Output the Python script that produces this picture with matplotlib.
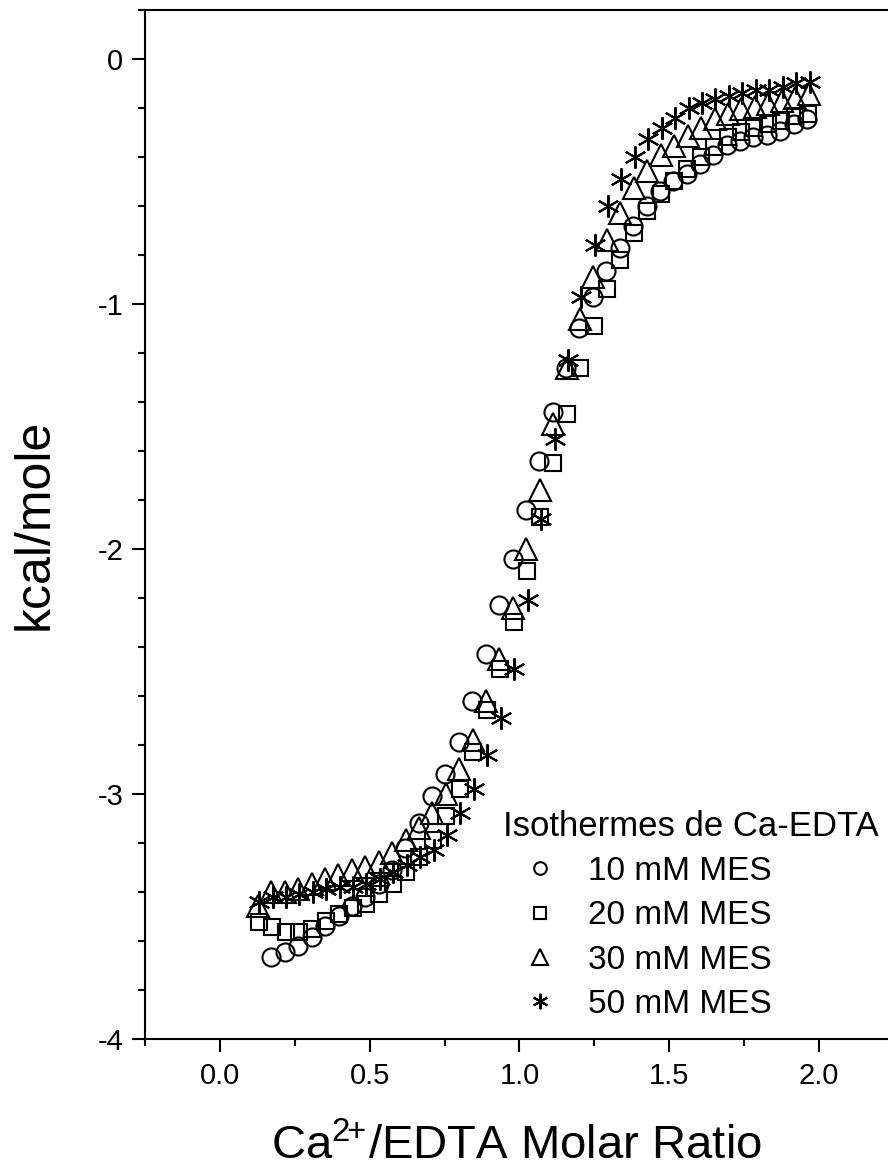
import matplotlib
matplotlib.use("Agg")
import matplotlib.pyplot as plt
from matplotlib.ticker import MultipleLocator, FormatStrFormatter

plt.rcParams['font.family'] = ['Liberation Sans', 'DejaVu Sans']
plt.rcParams['axes.unicode_minus'] = False
plt.rcParams['mathtext.fontset'] = 'custom'
plt.rcParams['mathtext.rm'] = 'Liberation Sans'
plt.rcParams['mathtext.it'] = 'Liberation Sans'
plt.rcParams['mathtext.bf'] = 'Liberation Sans'

# ---- data ----
x_10 = [0.172, 0.217, 0.261, 0.306, 0.351, 0.396, 0.440, 0.485, 0.530, 0.574,
        0.619, 0.664, 0.708, 0.753, 0.798, 0.843, 0.887, 0.932, 0.977, 1.021,
        1.066, 1.111, 1.155, 1.200, 1.245, 1.289, 1.334, 1.379, 1.424, 1.468,
        1.513, 1.558, 1.602, 1.647, 1.692, 1.736, 1.781, 1.826, 1.870, 1.915,
        1.960]
y_10 = [-3.668, -3.648, -3.62, -3.586, -3.54, -3.50, -3.46, -3.42, -3.37, -3.31,
        -3.22, -3.12, -3.01, -2.92, -2.79, -2.62, -2.43, -2.23, -2.04, -1.84,
        -1.64, -1.44, -1.26, -1.10, -0.97, -0.865, -0.77, -0.68, -0.60, -0.54,
        -0.50, -0.47, -0.43, -0.39, -0.35, -0.336, -0.32, -0.31, -0.294, -0.265,
        -0.246]

x_20 = [0.130, 0.175, 0.219, 0.264, 0.309, 0.354, 0.398, 0.443, 0.488, 0.532,
        0.577, 0.622, 0.666, 0.711, 0.756, 0.801, 0.845, 0.890, 0.935, 0.980,
        1.024, 1.069, 1.113, 1.158, 1.203, 1.248, 1.292, 1.337, 1.382, 1.426,
        1.471, 1.516, 1.560, 1.605, 1.650, 1.695, 1.739, 1.784, 1.829, 1.873,
        1.918, 1.963]
y_20 = [-3.525, -3.545, -3.563, -3.563, -3.552, -3.52, -3.49, -3.467, -3.45, -3.41,
        -3.37, -3.32, -3.26, -3.19, -3.09, -2.98, -2.83, -2.66, -2.49, -2.30,
        -2.09, -1.87, -1.65, -1.45, -1.26, -1.09, -0.94, -0.82, -0.71, -0.62,
        -0.55, -0.50, -0.45, -0.40, -0.36, -0.32, -0.30, -0.28, -0.264, -0.253,
        -0.233, -0.226]

x_30 = [0.126, 0.171, 0.216, 0.261, 0.306, 0.350, 0.395, 0.440, 0.485, 0.530,
        0.575, 0.620, 0.664, 0.709, 0.754, 0.799, 0.844, 0.889, 0.933, 0.978,
        1.023, 1.068, 1.113, 1.158, 1.203, 1.247, 1.292, 1.337, 1.382, 1.427,
        1.472, 1.516, 1.561, 1.606, 1.651, 1.696, 1.741, 1.786, 1.830, 1.875,
        1.920, 1.965]
y_30 = [-3.46, -3.40, -3.40, -3.39, -3.37, -3.35, -3.33, -3.31, -3.30, -3.28,
        -3.24, -3.19, -3.14, -3.08, -3.00, -2.90, -2.78, -2.62, -2.45, -2.24,
        -2.00, -1.76, -1.49, -1.26, -1.06, -0.89, -0.74, -0.63, -0.525, -0.457,
        -0.39, -0.355, -0.315, -0.28, -0.246, -0.223, -0.205, -0.196, -0.185, -0.171,
        -0.158, -0.141]

x_50 = [0.131, 0.176, 0.221, 0.265, 0.310, 0.355, 0.400, 0.445, 0.489, 0.534,
        0.579, 0.624, 0.669, 0.713, 0.758, 0.803, 0.848, 0.893, 0.937, 0.982,
        1.027, 1.072, 1.117, 1.161, 1.206, 1.251, 1.296, 1.340, 1.385, 1.430,
        1.475, 1.520, 1.565, 1.609, 1.654, 1.699, 1.744, 1.788, 1.833, 1.878,
        1.923, 1.968]
y_50 = [-3.44, -3.42, -3.42, -3.41, -3.40, -3.39, -3.38, -3.38, -3.37, -3.35,
        -3.32, -3.29, -3.26, -3.23, -3.17, -3.08, -2.98, -2.84, -2.69, -2.49,
        -2.21, -1.88, -1.55, -1.23, -0.97, -0.76, -0.60, -0.49, -0.40, -0.325,
        -0.28, -0.24, -0.20, -0.178, -0.165, -0.15, -0.14, -0.128, -0.125, -0.115,
        -0.10, -0.095]

series_labels = ['10 mM MES', '20 mM MES', '30 mM MES', '50 mM MES']
legend_title = 'Isothermes de Ca-EDTA'
x_label = r'Ca$^{\mathregular{2\!\!+\!}}$/EDTA Molar Ratio'
y_label = 'kcal/mole'

# ---- figure ----
W, H = 888, 1172
fig = plt.figure(figsize=(W / 100, H / 100), dpi=100)
ax = fig.add_axes([145 / W, (H - 1038.7) / H, 1 - 145 / W, (1038.7 - 10) / H])

common = dict(linestyle='none', markerfacecolor='none', markeredgecolor='black',
              markeredgewidth=1.5, clip_on=False)
ax.plot(x_10, y_10, marker='o', markersize=13, label=series_labels[0], **common)
ax.plot(x_20, y_20, marker='s', markersize=12, label=series_labels[1], **common)
ax.plot(x_30, y_30, marker='^', markersize=15.5, label=series_labels[2], **common)
ax.plot(x_50, y_50, marker=(6, 2, 0), markersize=16, label=series_labels[3], **common)

ax.set_xlim(-0.25, 2.23)
ax.set_ylim(-4, 0.2)

ax.xaxis.set_major_locator(MultipleLocator(0.5))
ax.xaxis.set_minor_locator(MultipleLocator(0.25))
ax.xaxis.set_major_formatter(FormatStrFormatter('%.1f'))
ax.yaxis.set_major_locator(MultipleLocator(1))
ax.yaxis.set_minor_locator(MultipleLocator(0.2))
ax.yaxis.set_major_formatter(FormatStrFormatter('%d'))

ax.tick_params(which='both', direction='out', width=1.5, colors='black')
ax.tick_params(which='major', length=9.5, labelsize=21)
ax.tick_params(axis='x', which='major', pad=7)
ax.tick_params(axis='y', which='major', pad=6)
ax.tick_params(which='minor', length=5)
ax.tick_params(top=False, right=False)

for s in ['left', 'bottom', 'top']:
    ax.spines[s].set_linewidth(1.5)
ax.spines['right'].set_visible(False)

ax.set_xlabel(x_label, fontsize=34, labelpad=25)
ax.set_ylabel(y_label, fontsize=36, labelpad=29)

leg = ax.legend(title=legend_title, loc='lower left',
                bbox_to_anchor=(503 / W, (H - 1020) / H), bbox_transform=fig.transFigure,
                frameon=False, fontsize=24, title_fontsize=25, alignment='left',
                markerscale=0.7, handlelength=2.2, handletextpad=0.35,
                labelspacing=0.4, borderpad=0, borderaxespad=0)

fig.savefig('out.png', dpi=100)
